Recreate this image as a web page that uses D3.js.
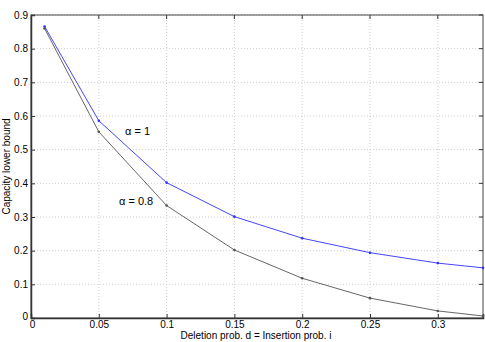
<!DOCTYPE html>
<html>
<head>
<meta charset="utf-8">
<script src="https://cdn.jsdelivr.net/npm/d3@7"></script>
<style>
  body { margin: 0; background: #fff; }
  svg { display: block; font-family: "Liberation Sans", Arial, sans-serif; }
  .grid line { stroke: #d0d0d0; stroke-dasharray: 1,2; }
  .tick text { font-size: 10px; fill: #000; }
</style>
</head>
<body>
<script>
// deletion prob. values (x) and the two curves
var probs = [0.01, 0.05, 0.1, 0.15, 0.2, 0.25, 0.3, 1/3];
var alpha1 = [0.866, 0.586, 0.402, 0.301, 0.237, 0.194, 0.163, 0.149];
var alpha08 = [0.860, 0.553, 0.334, 0.202, 0.118, 0.059, 0.021, 0.006];
var xTicks = [0, 0.05, 0.1, 0.15, 0.2, 0.25, 0.3];
var yTicks = [0, 0.1, 0.2, 0.3, 0.4, 0.5, 0.6, 0.7, 0.8, 0.9];

var width = 485, height = 342;
var margin = {top: 15, right: 2, bottom: 24, left: 31};

var svg = d3.select("body").append("svg")
    .attr("width", width)
    .attr("height", height);

var x = d3.scaleLinear().domain([0, 1/3]).range([margin.left, width - margin.right]);
var y = d3.scaleLinear().domain([0, 0.9]).range([height - margin.bottom, margin.top]);

// dotted grid
var grid = svg.append("g").attr("class", "grid");
grid.selectAll(".gx").data(xTicks.slice(1)).enter().append("line")
    .attr("x1", d => x(d)).attr("x2", d => x(d))
    .attr("y1", y(0)).attr("y2", y(0.9));
grid.selectAll(".gy").data(yTicks.slice(1)).enter().append("line")
    .attr("x1", x(0)).attr("x2", x(1/3))
    .attr("y1", d => y(d)).attr("y2", d => y(d));

// box
svg.append("rect")
    .attr("x", x(0)).attr("y", y(0.9))
    .attr("width", x(1/3) - x(0)).attr("height", y(0) - y(0.9))
    .style("fill", "none").style("stroke", "#444").style("stroke-width", 1);

// axes, ticks pointing inward
var xAxis = svg.append("g")
    .attr("transform", "translate(0," + y(0) + ")")
    .call(d3.axisBottom(x).tickValues(xTicks).tickSize(-4).tickPadding(3).tickFormat(d3.format("~g")));
var yAxis = svg.append("g")
    .attr("transform", "translate(" + x(0) + ",0)")
    .call(d3.axisLeft(y).tickValues(yTicks).tickSize(-4).tickPadding(3).tickFormat(d3.format("~g")));
[xAxis, yAxis].forEach(function(a){
    a.select(".domain").style("stroke", "#333").style("stroke-width", 1.5);
    a.selectAll(".tick line").style("stroke", "#333");
});
yAxis.selectAll(".tick text").filter(d => d === 0).attr("dy", "0.1em");
xAxis.selectAll(".tick text").filter(d => d === 0).attr("dx", "0.1em");

// top/right ticks
svg.append("g").selectAll("line").data(xTicks.slice(1)).enter().append("line")
    .attr("x1", d => x(d)).attr("x2", d => x(d))
    .attr("y1", y(0.9)).attr("y2", y(0.9) + 4).style("stroke", "#333");
svg.append("g").selectAll("line").data(yTicks.slice(1)).enter().append("line")
    .attr("x1", x(1/3)).attr("x2", x(1/3) - 4)
    .attr("y1", d => y(d)).attr("y2", d => y(d)).style("stroke", "#333");

var line = d3.line().x(d => x(d[0])).y(d => y(d[1]));

function drawSeries(vals, color){
    var pts = probs.map((p, i) => [p, vals[i]]);
    svg.append("path").datum(pts)
        .attr("d", line)
        .style("fill", "none").style("stroke", color).style("stroke-width", 0.9);
    svg.append("g").selectAll("circle").data(pts).enter().append("circle")
        .attr("cx", d => x(d[0])).attr("cy", d => y(d[1]))
        .attr("r", 1.3).style("fill", color);
}
drawSeries(alpha08, "#555");
drawSeries(alpha1, "#3030ff");

// curve labels
svg.append("text").attr("x", 125).attr("y", 135)
    .style("font-size", "11px").text("\u03b1 = 1");
svg.append("text").attr("x", 119).attr("y", 205)
    .style("font-size", "11px").text("\u03b1 = 0.8");

// axis titles
svg.append("text")
    .attr("x", 256).attr("y", 339)
    .attr("text-anchor", "middle")
    .style("font-size", "10px")
    .text("Deletion prob. d = Insertion prob. i");
svg.append("text")
    .attr("transform", "translate(10," + ((y(0) + y(0.9)) / 2) + ") rotate(-90)")
    .attr("text-anchor", "middle")
    .style("font-size", "10px")
    .text("Capacity lower bound");
</script>
</body>
</html>
